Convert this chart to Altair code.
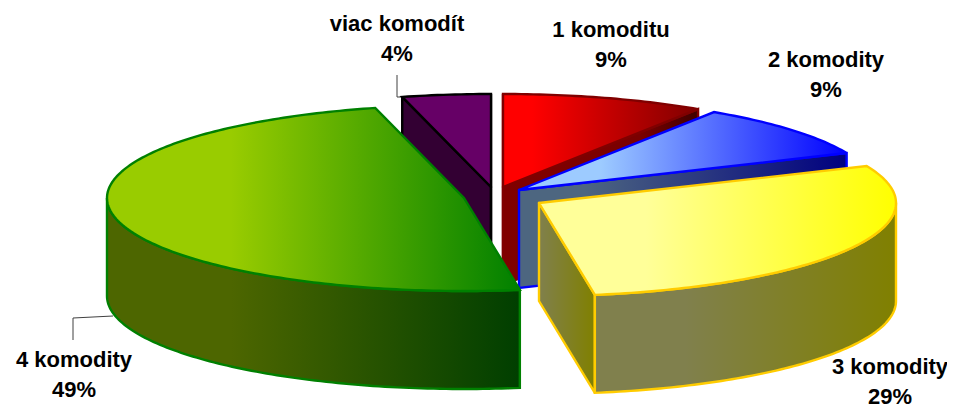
import math
import altair as alt
import pandas as pd

categories = ["1 komoditu", "2 komodity", "3 komodity", "4 komodity", "viac komodít"]
percent_labels = ["9%", "9%", "29%", "49%", "4%"]
shares = [9.2, 9.3, 29.0, 48.5, 4.0]

# layout of the exploded tilted pie, in page pixels
RX, RY, DEPTH = 357, 93, 98
apex = {
    "1 komoditu": (503, 187), "2 komodity": (519, 190), "3 komodity": (539, 203),
    "4 komodity": (464, 198), "viac komodít": (491, 187),
}
label_pos = {
    "1 komoditu": (611, 30), "2 komodity": (826, 60), "3 komodity": (890, 367),
    "4 komodity": (74, 360), "viac komodít": (397, 24),
}
LINE_GAP = 30


def grad(*stops):
    return alt.Gradient(
        gradient="linear", x1=0, x2=1, y1=0, y2=0,
        stops=[alt.GradientStop(offset=o, color=c) for o, c in stops],
    )


style = {
    "1 komoditu": dict(stroke="#800000", top=grad((0.15, "#ff0000"), (1, "#800000")), wall=grad((0, "#800000"), (1, "#400000")), face=grad((0, "#800000"), (0.7, "#7a0000"), (1, "#400000"))),
    "2 komodity": dict(stroke="#0000ff", top=grad((0.25, "#9dcbff"), (1, "#0000ff")), wall=grad((0, "#10107a"), (1, "#000080")), face=grad((0.2, "#4d6680"), (1, "#000080"))),
    "3 komodity": dict(stroke="#ffcc00", top=grad((0.3, "#ffff99"), (1, "#ffff00")), wall=grad((0.3, "#80804d"), (1, "#808000")), face=grad((0, "#80804d"), (1, "#808000"))),
    "4 komodity": dict(stroke="#008000", top=grad((0.3, "#99cc00"), (1, "#008000")), wall=grad((0.3, "#4d6600"), (1, "#003f00")), face=grad((0, "#4d6600"), (1, "#003f00"))),
    "viac komodít": dict(stroke="#000000", top=grad((0, "#660066"), (1, "#660066")), wall=grad((0, "#330033"), (1, "#330033")), face=grad((0, "#330033"), (1, "#330033"))),
}

X = alt.Scale(domain=[8, 947], nice=False, zero=False)
Y = alt.Scale(domain=[407, 8], nice=False, zero=False)


def pt(name, deg, drop=0):
    cx, cy = apex[name]
    t = math.radians(deg)
    return (cx + RX * math.sin(t), cy - RY * math.cos(t) + drop)


def arc(name, a0, a1, drop=0):
    n = max(2, int(abs(a1 - a0)) + 1)
    return [pt(name, a0 + (a1 - a0) * i / n, drop) for i in range(n + 1)]


def poly(points, fill, stroke, width=2.4):
    pts = list(points) + [points[0]]
    df = pd.DataFrame({"x": [p[0] for p in pts], "y": [p[1] for p in pts], "i": range(len(pts))})
    return alt.Chart(df).mark_line(
        fill=fill, stroke=stroke, strokeWidth=width, strokeJoin="miter", strokeMiterLimit=2.5, strokeCap="round"
    ).encode(
        x=alt.X("x:Q", scale=X, axis=None),
        y=alt.Y("y:Q", scale=Y, axis=None),
        order=alt.Order("i:Q"),
    )


def radial(name, deg):
    cx, cy = apex[name]
    o = pt(name, deg)
    return [(cx, cy), o, (o[0], o[1] + DEPTH), (cx, cy + DEPTH)]


# slice angles, clockwise from 12 o'clock, from the shares
angles = {}
acc = 0.0
for c, s in zip(categories, shares):
    angles[c] = (acc * 3.6, (acc + s) * 3.6)
    acc += s

layers = []


def leader(xs, ys):
    df = pd.DataFrame({"x": xs, "y": ys, "i": range(len(xs))})
    return alt.Chart(df).mark_line(color="#404040", strokeWidth=1).encode(
        x=alt.X("x:Q", scale=X, axis=None), y=alt.Y("y:Q", scale=Y, axis=None), order=alt.Order("i:Q")
    )


layers.append(leader([397, 397, 425], [75, 97, 97]))
layers.append(leader([73, 73, 113], [340, 318, 316]))

for name in ["viac komodít", "1 komoditu", "2 komodity", "4 komodity", "3 komodity"]:
    a0, a1 = angles[name]
    st = style[name]
    for deg in (a0, a1):
        # a cut face shows only when its outward normal points at the viewer
        normal = deg + 90 if deg == a1 else deg - 90
        if math.cos(math.radians(normal)) < 1e-6:
            layers.append(poly(radial(name, deg), st["face"], st["stroke"]))
    lo, hi = max(a0, 90), min(a1, 270)
    if lo < hi:
        layers.append(poly(arc(name, lo, hi) + arc(name, hi, lo, DEPTH), st["wall"], st["stroke"]))
    cx, cy = apex[name]
    layers.append(poly([(cx, cy)] + arc(name, a0, a1), st["top"], st["stroke"]))

txt_rows = []
for c, p in zip(categories, percent_labels):
    lx, ly = label_pos[c]
    txt_rows.append({"x": lx, "y": ly, "t": c})
    txt_rows.append({"x": lx, "y": ly + LINE_GAP, "t": p})
layers.append(
    alt.Chart(pd.DataFrame(txt_rows)).mark_text(
        font="Liberation Sans", fontWeight="bold", fontSize=22, color="#000000", align="center", baseline="middle"
    ).encode(
        x=alt.X("x:Q", scale=X, axis=None), y=alt.Y("y:Q", scale=Y, axis=None), text="t:N"
    )
)

chart = alt.layer(*layers).properties(
    width=939, height=399, padding=0, autosize=alt.AutoSizeParams(type="none"), background="#ffffff"
).configure_view(stroke=None)

chart.save("out.html", embed_options={"renderer": "svg", "actions": False})
